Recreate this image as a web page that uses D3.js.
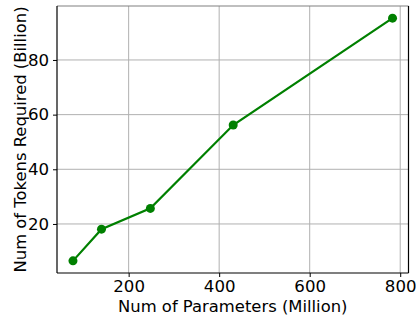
<!DOCTYPE html>
<html>
<head>
<meta charset="utf-8">
<script src="https://cdn.jsdelivr.net/npm/d3@7"></script>
<style>
  body { margin: 0; background: #fff; }
  svg text { font-family: "DejaVu Sans", sans-serif; fill: #000; }
</style>
</head>
<body>
<div id="chart"></div>
<script>
// model sizes vs tokens needed
const params = [77, 140, 248, 431, 783];
const tokens = [6.5, 18.1, 25.7, 56.2, 95.3];
const xTicks = [200, 400, 600, 800];
const yTicks = [20, 40, 60, 80];

const width = 416;
const height = 317;
const margin = {top: 6, right: 7.5, bottom: 44, left: 57};
const w = width - margin.left - margin.right;
const h = height - margin.top - margin.bottom;

const pad = (lo, hi) => [lo - (hi - lo) * 0.05, hi + (hi - lo) * 0.05];

const x = d3.scaleLinear().domain(pad(d3.min(params), d3.max(params))).range([0, w]);
const y = d3.scaleLinear().domain(pad(d3.min(tokens), d3.max(tokens))).range([h, 0]);

const svg = d3.select('#chart').append('svg')
  .attr('width', width)
  .attr('height', height);

const g = svg.append('g').attr('transform', `translate(${margin.left},${margin.top})`);

// grid
g.append('g').selectAll('line').data(xTicks).join('line')
  .attr('x1', d => x(d)).attr('x2', d => x(d))
  .attr('y1', 0).attr('y2', h)
  .attr('stroke', '#b0b0b0').attr('stroke-width', 1);
g.append('g').selectAll('line').data(yTicks).join('line')
  .attr('x1', 0).attr('x2', w)
  .attr('y1', d => y(d)).attr('y2', d => y(d))
  .attr('stroke', '#b0b0b0').attr('stroke-width', 1);

// axes
const xAxis = g.append('g').attr('transform', `translate(0,${h})`)
  .call(d3.axisBottom(x).tickValues(xTicks).tickSize(4).tickPadding(3).tickFormat(d3.format('d')));
const yAxis = g.append('g')
  .call(d3.axisLeft(y).tickValues(yTicks).tickSize(4).tickPadding(4).tickFormat(d3.format('d')));
[xAxis, yAxis].forEach(a => {
  a.select('.domain').remove();
  a.selectAll('.tick line').attr('stroke', '#000');
  a.attr('font-size', null).attr('font-family', null);
  a.selectAll('.tick text').style('font-size', '16.6px');
});

// spines
g.append('line').attr('x1', 0).attr('x2', w).attr('y1', 0).attr('y2', 0).attr('stroke', '#808080').attr('stroke-width', 1.2);
g.append('line').attr('x1', w).attr('x2', w).attr('y1', 0).attr('y2', h).attr('stroke', '#000').attr('stroke-width', 1.2);
g.append('line').attr('x1', 0).attr('x2', 0).attr('y1', 0).attr('y2', h).attr('stroke', '#000').attr('stroke-width', 1.2);
g.append('line').attr('x1', 0).attr('x2', w).attr('y1', h).attr('y2', h).attr('stroke', '#000').attr('stroke-width', 1.2);

// line + markers
const pts = params.map((p, i) => [p, tokens[i]]);
g.append('path').datum(pts)
  .attr('fill', 'none')
  .attr('stroke', '#008000')
  .attr('stroke-width', 2.2)
  .attr('d', d3.line().x(d => x(d[0])).y(d => y(d[1])));
g.append('g').selectAll('circle').data(pts).join('circle')
  .attr('cx', d => x(d[0])).attr('cy', d => y(d[1]))
  .attr('r', 4.5).attr('fill', '#008000');

// labels
svg.append('text')
  .attr('x', margin.left + w / 2).attr('y', 311.5)
  .attr('text-anchor', 'middle').style('font-size', '16.4px')
  .text('Num of Parameters (Million)');
svg.append('text')
  .attr('transform', `translate(25.5,${margin.top + h / 2}) rotate(-90)`)
  .attr('text-anchor', 'middle').style('font-size', '16.4px')
  .text('Num of Tokens Required (Billion)');
</script>
</body>
</html>
